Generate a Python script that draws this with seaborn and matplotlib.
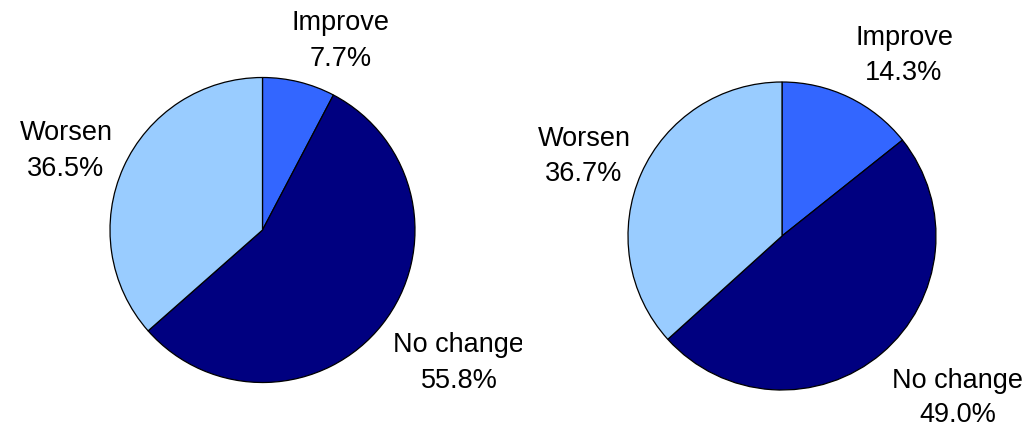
import matplotlib
matplotlib.use("Agg")
import matplotlib.pyplot as plt
import seaborn as sns

sns.set_theme(style="white")
plt.rcParams["font.family"] = ["Liberation Sans", "DejaVu Sans"]

# Survey outcome shares (percent), two groups
categories = ["Improve", "No change", "Worsen"]
left_values = [7.7, 55.8, 36.5]
right_values = [14.3, 49.0, 36.7]
colors = ["#3366FF", "#000080", "#99CCFF"]

W, H = 1034, 432
fig = plt.figure(figsize=(W / 100, H / 100), dpi=100)
fig.patch.set_facecolor("white")

# Panel layout in pixels: (left, right) of the axes box, pie centre and radius
panels = [
    dict(box=(0, 522), center=(262.5, 230), radius=152.5, values=left_values,
         # label anchor: (x centre, name baseline, value baseline) per category
         labels={"Improve": (341, 30, 65.5),
                 "No change": (459, 351.5, 388),
                 "Worsen": (66, 140, 175.5)}),
    dict(box=(522, 1034), center=(782, 236), radius=154, values=right_values,
         labels={"Improve": (904, 45, 80),
                 "No change": (958, 388, 421.5),
                 "Worsen": (584, 145.5, 181)}),
]

for p in panels:
    x0, x1 = p["box"]
    cx, cy = p["center"]
    r = p["radius"]
    ax = fig.add_axes([x0 / W, 0, (x1 - x0) / W, 1])
    ax.pie(p["values"], colors=colors, startangle=90, counterclock=False,
           wedgeprops=dict(edgecolor="black", linewidth=0.9))

    # map pixel coordinates into data units (pie radius = 1)
    def to_data(px, py):
        return (px - cx) / r, (cy - py) / r

    xl = to_data(x0, 0)[0], to_data(x1, 0)[0]
    yl = to_data(0, H)[1], to_data(0, 0)[1]
    ax.set_xlim(*xl)
    ax.set_ylim(*yl)
    ax.set_aspect("auto")
    ax.axis("off")

    for cat, val in zip(categories, p["values"]):
        lx, b1, b2 = p["labels"][cat]
        tx, ty1 = to_data(lx, b1)
        _, ty2 = to_data(lx, b2)
        ax.text(tx, ty1, cat, ha="center", va="baseline", fontsize=19.5,
                color="black", clip_on=True)
        ax.text(tx, ty2, f"{val:.1f}%", ha="center", va="baseline",
                fontsize=19.5, color="black", clip_on=True)

fig.savefig("out.png", dpi=100, facecolor="white")
